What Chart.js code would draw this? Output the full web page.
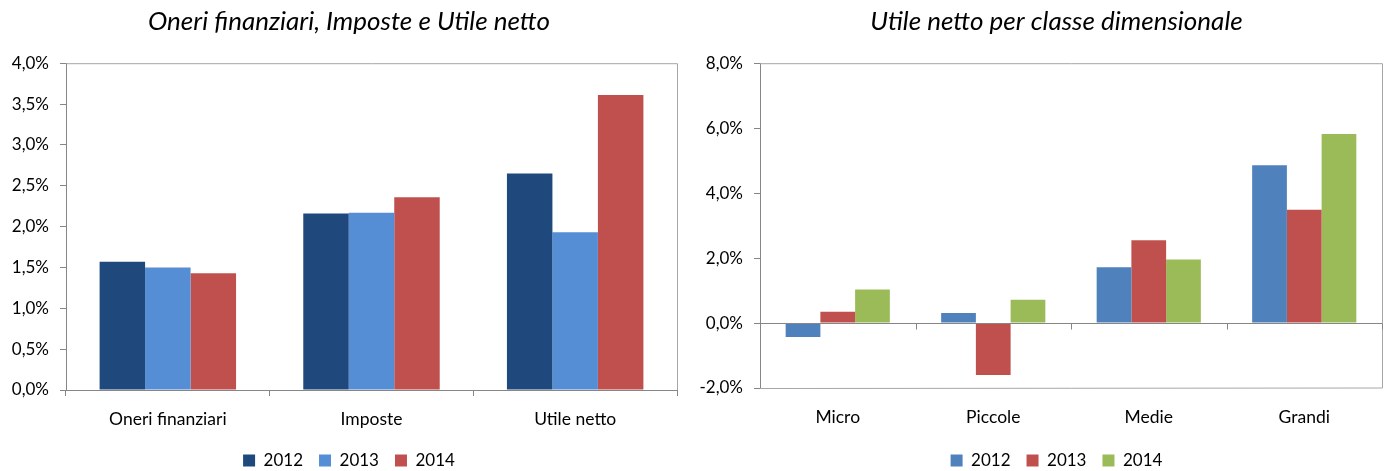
<!DOCTYPE html>
<html>
<head>
<meta charset="utf-8">
<script src="https://cdn.jsdelivr.net/npm/chart.js@4.4.0/dist/chart.umd.min.js"></script>
<style>
  html, body { margin: 0; padding: 0; background: #fff; overflow: hidden; width: 1390px; height: 471px; }
  #left  { position: absolute; left: 0;     top: 0; width: 698px; height: 471px; }
  #right { position: absolute; left: 695px; top: 0; width: 724px; height: 471px; }
</style>
</head>
<body>
<div id="left"><canvas id="c1"></canvas></div>
<div id="right"><canvas id="c2"></canvas></div>
<script>
// Years shown in both legends
const years = ['2012', '2013', '2014'];

// Left chart: financial charges, taxes and net profit (% of revenue)
const voci = ['Oneri finanziari', 'Imposte', 'Utile netto'];
const voci2012 = [1.57, 2.16, 2.65];
const voci2013 = [1.50, 2.17, 1.93];
const voci2014 = [1.43, 2.36, 3.61];
const vociTicks = [0, 0.5, 1, 1.5, 2, 2.5, 3, 3.5, 4];

// Right chart: net profit by firm size class (%)
const classi = ['Micro', 'Piccole', 'Medie', 'Grandi'];
const classi2012 = [-0.43, 0.31, 1.72, 4.86];
const classi2013 = [0.35, -1.60, 2.55, 3.49];
const classi2014 = [1.03, 0.72, 1.96, 5.82];
const classiTicks = [-2, 0, 2, 4, 6, 8];

const FONT = 'Lato, "Open Sans", sans-serif';
const AXIS = '#868686';
const FRAME = '#a6a6a6';

const pct = v => v.toFixed(1).replace('.', ',') + '%';

// Plot-area frame and optional zero line with category tick marks
const plotFrame = {
  id: 'plotFrame',
  afterDatasetsDraw(chart, args, opts) {
    const { ctx, chartArea: a } = chart;
    ctx.save();
    ctx.lineWidth = 1;
    ctx.strokeStyle = FRAME;
    ctx.beginPath();
    ctx.moveTo(a.left, a.top + 0.5);
    ctx.lineTo(a.right + 0.5, a.top + 0.5);
    ctx.lineTo(a.right + 0.5, a.bottom);
    if (opts.bottom) ctx.lineTo(a.left, a.bottom + 0.5);
    ctx.stroke();
    if (opts.zeroLine) {
      const xs = chart.scales.x, ys = chart.scales.y;
      const y0 = Math.round(ys.getPixelForValue(0)) + 0.5;
      const n = xs.getLabels().length;
      const w = (xs.right - xs.left) / n;
      ctx.strokeStyle = AXIS;
      ctx.beginPath();
      ctx.moveTo(a.left, y0);
      ctx.lineTo(a.right, y0);
      for (let i = 0; i <= n; i++) {
        const x = Math.round(xs.getPixelForValue(0) - w / 2 + i * w) + 0.5;
        ctx.moveTo(x, y0);
        ctx.lineTo(x, y0 + 6);
      }
      ctx.stroke();
    }
    ctx.restore();
  }
};

function yAxis(ticks, width) {
  return {
    min: ticks[0],
    max: ticks[ticks.length - 1],
    afterBuildTicks: s => { s.ticks = ticks.map(v => ({ value: v })); },
    afterFit: s => { s.width = width; },
    border: { display: true, color: AXIS, width: 1 },
    grid: { drawOnChartArea: false, drawTicks: true, tickLength: 6, tickColor: AXIS },
    ticks: { callback: v => pct(v), color: '#000', padding: 11, font: { family: FONT, size: 17 } }
  };
}

// Empty right-hand margin so the title sits centred over the whole panel
function spacer(width) {
  return {
    type: 'linear',
    position: 'right',
    display: true,
    grid: { display: false, drawTicks: false },
    border: { display: false },
    ticks: { display: false },
    afterFit: s => { s.width = width; }
  };
}

function commonOptions(title, scales, frameOpts, pad) {
  return {
    responsive: true,
    maintainAspectRatio: false,
    animation: false,
    layout: { padding: { left: pad.left, right: pad.right, top: 0, bottom: -8 } },
    scales,
    plugins: {
      title: {
        display: true,
        text: title,
        color: '#000',
        font: { family: FONT, size: 26, style: 'italic', weight: 'normal', lineHeight: 1.2 },
        padding: { top: 6, bottom: 26 }
      },
      legend: {
        position: 'bottom',
        labels: {
          color: '#000',
          boxWidth: 12,
          boxHeight: 12,
          padding: 16,
          font: { family: FONT, size: 17 }
        }
      },
      tooltip: { enabled: false },
      plotFrame: frameOpts
    }
  };
}

function bars(label, data, color) {
  return {
    label, data,
    backgroundColor: color,
    borderWidth: 0,
    categoryPercentage: 0.67,
    barPercentage: 1.0
  };
}

new Chart(document.getElementById('c1'), {
  type: 'bar',
  data: {
    labels: voci,
    datasets: [
      bars(years[0], voci2012, '#1f497d'),
      bars(years[1], voci2013, '#558ed5'),
      bars(years[2], voci2014, '#c0504d')
    ]
  },
  options: commonOptions(
    'Oneri finanziari, Imposte e Utile netto',
    {
      x: {
        border: { display: true, color: AXIS, width: 1 },
        grid: { offset: true, drawOnChartArea: false, drawTicks: true, tickLength: 6, tickColor: AXIS },
        ticks: { color: '#000', padding: 13, font: { family: FONT, size: 17.5 } },
        afterFit: s => { s.height = 46; }
      },
      y: yAxis(vociTicks, 58),
      margin: spacer(13)
    },
    { bottom: false, zeroLine: false },
    { left: 8, right: 8 }
  ),
  plugins: [plotFrame]
});

new Chart(document.getElementById('c2'), {
  type: 'bar',
  data: {
    labels: classi,
    datasets: [
      bars(years[0], classi2012, '#4f81bd'),
      bars(years[1], classi2013, '#c0504d'),
      bars(years[2], classi2014, '#9bbb59')
    ]
  },
  options: commonOptions(
    'Utile netto per classe dimensionale',
    {
      x: {
        border: { display: false },
        grid: { display: false, drawTicks: false },
        ticks: { color: '#000', padding: 19, font: { family: FONT, size: 17.5 } },
        afterFit: s => { s.height = 48; }
      },
      y: yAxis(classiTicks, 60),
      margin: spacer(31)
    },
    { bottom: true, zeroLine: true },
    { left: 5, right: 6 }
  ),
  plugins: [plotFrame]
});
</script>
</body>
</html>
